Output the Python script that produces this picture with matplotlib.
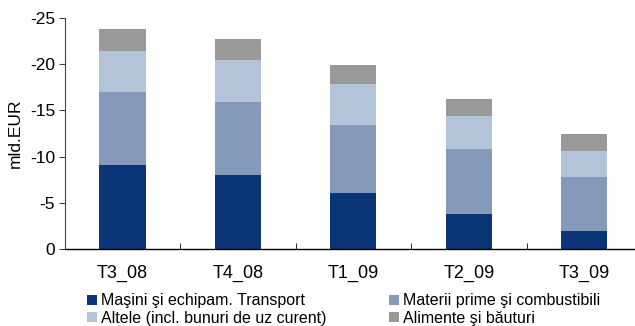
import matplotlib
matplotlib.use("Agg")
import matplotlib.pyplot as plt
import numpy as np

plt.rcParams['font.family'] = ['Liberation Sans', 'DejaVu Sans']

quarters = ["T3_08", "T4_08", "T1_09", "T2_09", "T3_09"]
masini = [-9.1, -8.0, -6.1, -3.8, -1.95]
materii = [-7.9, -7.9, -7.3, -7.0, -5.85]
altele = [-4.4, -4.55, -4.45, -3.6, -2.8]
alimente = [-2.4, -2.25, -2.05, -1.8, -1.85]
y_ticks = [0, -5, -10, -15, -20, -25]

series = [
    ("Maşini şi echipam. Transport", masini, "#0a3576"),
    ("Materii prime şi combustibili", materii, "#8599ba"),
    ("Altele (incl. bunuri de uz curent)", altele, "#b4c4d8"),
    ("Alimente şi băuturi", alimente, "#999999"),
]

fig = plt.figure(figsize=(6.35, 3.26), dpi=100)
ax = fig.add_axes([0.102, 0.236, 0.909, 0.709])

x = np.arange(len(quarters))
bottom = np.zeros(len(quarters))
handles = {}
for name, vals, color in series:
    vals = np.array(vals)
    b = ax.bar(x, vals, width=0.4, bottom=bottom, color=color, label=name, linewidth=0)
    handles[name] = b
    bottom = bottom + vals

ax.set_xlim(-0.5, len(quarters) - 0.5)
ax.set_ylim(0, -25)
ax.set_yticks(y_ticks)
ax.set_yticklabels([str(v) for v in y_ticks], fontsize=12.5)
ax.set_xticks(x)
ax.set_xticklabels(quarters, fontsize=13)
ax.tick_params(axis='x', length=0, pad=11)
ax.set_xticks(np.arange(len(quarters) + 1) - 0.5, minor=True)
ax.tick_params(axis='x', which='minor', direction='in', length=4, color='black')
ax.tick_params(axis='y', direction='out', length=4, color='#444444', pad=3)

for s in ['top', 'right']:
    ax.spines[s].set_visible(False)
ax.spines['left'].set_color('#444444')
ax.spines['bottom'].set_color('black')
ax.spines['bottom'].set_linewidth(1.0)

ax.set_ylabel("mld.EUR", fontsize=12.5, labelpad=5)

# two legend columns, placed independently
legend_kw = dict(frameon=False, loc='center left', fontsize=11.5,
                 handlelength=0.6, handleheight=0.6, handletextpad=0.3,
                 labelspacing=0.15, borderpad=0.0, borderaxespad=0.0)
col1 = [series[0][0], series[2][0]]
col2 = [series[1][0], series[3][0]]
fig.legend([handles[n] for n in col1], col1,
           bbox_to_anchor=(87 / 635, 1 - 309.5 / 326), **legend_kw)
fig.legend([handles[n] for n in col2], col2,
           bbox_to_anchor=(389 / 635, 1 - 309.5 / 326), **legend_kw)

fig.savefig("out.png", dpi=100)
